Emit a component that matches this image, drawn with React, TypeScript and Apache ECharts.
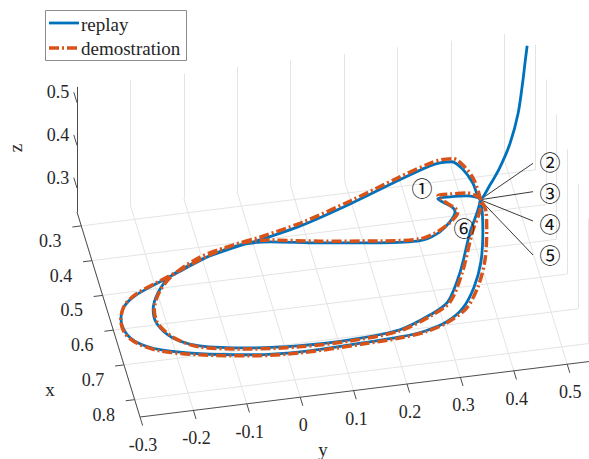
import React, { useEffect, useRef } from "react";
import * as echarts from "echarts";

// ---- axis limits and ticks (data units) ----
const xLim = [0.26, 0.85];
const yLim = [-0.3, 0.55];
const zLim = [0.244, 0.537];
const xTicks = [0.3, 0.4, 0.5, 0.6, 0.7, 0.8];
const yTicks = [-0.3, -0.2, -0.1, 0, 0.1, 0.2, 0.3, 0.4, 0.5];
const zTicks = [0.3, 0.4, 0.5];
const xTickLabels = ["0.3", "0.4", "0.5", "0.6", "0.7", "0.8"];
const yTickLabels = ["-0.3", "-0.2", "-0.1", "0", "0.1", "0.2", "0.3", "0.4", "0.5"];
const zTickLabels = ["0.3", "0.4", "0.5"];

// ---- trajectories [x, y, z] ----
const replayPath: number[][] = [
  [0.28, 0.539, 0.52], [0.3, 0.531, 0.498], [0.32, 0.523, 0.473], [0.35, 0.508, 0.423],
  [0.38, 0.487, 0.381], [0.41, 0.462, 0.353], [0.44, 0.437, 0.339], [0.46, 0.415, 0.325],
  [0.411, 0.411, 0.325], [0.371, 0.401, 0.325], [0.345, 0.385, 0.325], [0.344, 0.363, 0.325],
  [0.349, 0.343, 0.325], [0.377, 0.281, 0.325], [0.427, 0.178, 0.325], [0.471, 0.076, 0.325],
  [0.496, -0.005, 0.325], [0.509, -0.058, 0.325], [0.531, -0.124, 0.325], [0.567, -0.187, 0.325],
  [0.608, -0.218, 0.325], [0.653, -0.236, 0.325], [0.693, -0.237, 0.325], [0.738, -0.216, 0.325],
  [0.769, -0.172, 0.325], [0.792, -0.082, 0.325], [0.803, 0.009, 0.325], [0.804, 0.102, 0.325],
  [0.793, 0.198, 0.325], [0.762, 0.261, 0.325], [0.732, 0.3, 0.325], [0.653, 0.339, 0.325],
  [0.546, 0.379, 0.325], [0.493, 0.403, 0.325], [0.46, 0.415, 0.325],
  [0.445, 0.393, 0.325], [0.442, 0.362, 0.325], [0.443, 0.339, 0.325], [0.47, 0.36, 0.325],
  [0.485, 0.363, 0.325], [0.511, 0.348, 0.325], [0.54, 0.318, 0.325], [0.553, 0.284, 0.325],
  [0.545, 0.21, 0.325], [0.525, 0.102, 0.325], [0.505, 0.013, 0.325], [0.503, -0.043, 0.325],
  [0.523, -0.104, 0.325], [0.552, -0.16, 0.325], [0.58, -0.212, 0.325], [0.608, -0.261, 0.325],
  [0.635, -0.287, 0.325], [0.667, -0.299, 0.325], [0.708, -0.298, 0.325], [0.739, -0.282, 0.325],
  [0.766, -0.246, 0.325], [0.791, -0.176, 0.325], [0.811, -0.086, 0.325], [0.82, 0.006, 0.325],
  [0.817, 0.124, 0.325], [0.813, 0.194, 0.325], [0.805, 0.243, 0.325], [0.787, 0.287, 0.325],
  [0.754, 0.324, 0.325], [0.699, 0.356, 0.325], [0.632, 0.382, 0.325], [0.55, 0.402, 0.325],
  [0.494, 0.412, 0.325], [0.46, 0.415, 0.325],
];

const demoPath: number[][] = [
  [0.462, 0.416, 0.325], [0.403, 0.415, 0.325], [0.363, 0.405, 0.325], [0.337, 0.389, 0.325],
  [0.336, 0.367, 0.325], [0.341, 0.347, 0.325], [0.369, 0.283, 0.325], [0.419, 0.18, 0.325],
  [0.463, 0.078, 0.325], [0.488, -0.003, 0.325], [0.501, -0.056, 0.325], [0.523, -0.122, 0.325],
  [0.567, -0.185, 0.325], [0.608, -0.216, 0.325], [0.653, -0.234, 0.325], [0.693, -0.235, 0.325],
  [0.738, -0.214, 0.325], [0.772, -0.173, 0.325], [0.795, -0.083, 0.325], [0.806, 0.008, 0.325],
  [0.807, 0.101, 0.325], [0.796, 0.197, 0.325], [0.763, 0.265, 0.325], [0.733, 0.304, 0.325],
  [0.654, 0.343, 0.325], [0.547, 0.383, 0.325], [0.494, 0.407, 0.325], [0.462, 0.416, 0.325],
  [0.437, 0.395, 0.325], [0.434, 0.364, 0.325], [0.435, 0.341, 0.325], [0.477, 0.366, 0.325],
  [0.486, 0.368, 0.325], [0.509, 0.352, 0.325], [0.535, 0.319, 0.325], [0.548, 0.285, 0.325],
  [0.54, 0.211, 0.325], [0.52, 0.103, 0.325], [0.5, 0.014, 0.325], [0.498, -0.042, 0.325],
  [0.52, -0.103, 0.325], [0.549, -0.159, 0.325], [0.577, -0.211, 0.325], [0.605, -0.26, 0.325],
  [0.632, -0.286, 0.325], [0.67, -0.3, 0.325], [0.71, -0.3, 0.325], [0.741, -0.283, 0.325],
  [0.769, -0.247, 0.325], [0.794, -0.177, 0.325], [0.814, -0.087, 0.325], [0.823, 0.005, 0.325],
  [0.82, 0.123, 0.325], [0.816, 0.193, 0.325], [0.808, 0.242, 0.325], [0.79, 0.286, 0.325],
  [0.755, 0.331, 0.325], [0.7, 0.363, 0.325], [0.633, 0.389, 0.325], [0.551, 0.409, 0.325],
  [0.495, 0.419, 0.325], [0.462, 0.416, 0.325],
];

// convergence point marked by labels 2..5
const junction = [0.46, 0.415, 0.325];

// ---- view (oblique projection of the 3-D box onto the page) ----
const W = 589;
const H = 459;
const O = [77, 212];
const EX = [106.8, 347.5];
const EY = [534, -66];
const EZ = 427;

const P = (x: number, y: number, z: number): number[] => [
  O[0] + EX[0] * (x - xLim[0]) + EY[0] * (y - yLim[0]),
  O[1] + EX[1] * (x - xLim[0]) + EY[1] * (y - yLim[0]) - EZ * (z - zLim[0]),
];

const SERIF = "'Liberation Serif', 'Times New Roman', serif";
const TXT = "#262626";
const BLUE = "#0072BD";
const ORANGE = "#D95319";

function buildOption() {
  const grid: any[] = [];
  xTicks.forEach((x) => {
    grid.push({ coords: [P(x, yLim[0], zLim[0]), P(x, yLim[1], zLim[0])] });
    grid.push({ coords: [P(x, yLim[1], zLim[0]), P(x, yLim[1], zLim[1])] });
  });
  yTicks.forEach((y) => {
    grid.push({ coords: [P(xLim[0], y, zLim[0]), P(xLim[1], y, zLim[0])] });
    grid.push({ coords: [P(xLim[0], y, zLim[0]), P(xLim[0], y, zLim[1])] });
  });

  const axes: any[] = [
    { coords: [P(xLim[0], yLim[0], zLim[0]), P(xLim[1], yLim[0], zLim[0])] },
    { coords: [P(xLim[1], yLim[0], zLim[0]), P(xLim[1], yLim[1], zLim[0])] },
    { coords: [P(xLim[0], yLim[0], zLim[0]), P(xLim[0], yLim[0], zLim[1])] },
  ];
  const eyLen = Math.hypot(EY[0], EY[1]);
  const exLen = Math.hypot(EX[0], EX[1]);
  const graphics: any[] = [];
  const tickFont = `18px ${SERIF}`;
  xTicks.forEach((x, i) => {
    const p = P(x, yLim[0], zLim[0]);
    axes.push({ coords: [p, [p[0] - (EY[0] / eyLen) * 9, p[1] - (EY[1] / eyLen) * 9]] });
    graphics.push({
      type: "text", x: p[0] - 31, y: p[1] + 15,
      style: { text: xTickLabels[i], font: tickFont, fill: TXT, align: "center", verticalAlign: "middle" },
    });
  });
  yTicks.forEach((y, i) => {
    const p = P(xLim[1], y, zLim[0]);
    axes.push({ coords: [p, [p[0] + (EX[0] / exLen) * 9, p[1] + (EX[1] / exLen) * 9]] });
    graphics.push({
      type: "text", x: p[0] + 3, y: p[1] + 28,
      style: { text: yTickLabels[i], font: tickFont, fill: TXT, align: "center", verticalAlign: "middle" },
    });
  });
  zTicks.forEach((z, i) => {
    const p = P(xLim[0], yLim[0], z);
    axes.push({ coords: [p, [p[0] - (EX[0] / exLen) * 11, p[1] - (EX[1] / exLen) * 11]] });
    graphics.push({
      type: "text", x: p[0] - 19, y: p[1] - 10.5,
      style: { text: zTickLabels[i], font: tickFont, fill: TXT, align: "center", verticalAlign: "middle" },
    });
  });

  // axis titles
  graphics.push(
    { type: "text", x: 50, y: 389, style: { text: "x", font: `19px ${SERIF}`, fill: TXT, align: "center", verticalAlign: "middle" } },
    { type: "text", x: 323, y: 449, style: { text: "y", font: `19px ${SERIF}`, fill: TXT, align: "center", verticalAlign: "middle" } },
    { type: "text", x: 15, y: 148, rotation: Math.PI / 2, style: { text: "z", font: `19px ${SERIF}`, fill: TXT, align: "center", verticalAlign: "middle" } },
  );

  // legend
  graphics.push(
    { type: "rect", shape: { x: 45.5, y: 10.5, width: 141, height: 50 }, style: { fill: "#fff", stroke: "#8c8c8c", lineWidth: 1 } },
    { type: "line", shape: { x1: 49, y1: 23, x2: 79, y2: 23 }, style: { stroke: BLUE, lineWidth: 2.8 } },
    { type: "line", shape: { x1: 49, y1: 48, x2: 79, y2: 48 }, style: { stroke: ORANGE, lineWidth: 3.5, lineDash: [10, 3, 2, 3] } },
    { type: "text", x: 81, y: 24, style: { text: "replay", font: `19px ${SERIF}`, fill: TXT, verticalAlign: "middle" } },
    { type: "text", x: 81, y: 48, style: { text: "demostration", font: `19px ${SERIF}`, fill: TXT, verticalAlign: "middle" } },
  );

  // annotations
  const CIRC = "'Noto Sans CJK SC', 'DejaVu Sans', sans-serif";
  const marks: [string, number, number][] = [
    ["①", 422, 187], ["②", 550, 161], ["③", 550, 192], ["④", 550, 223], ["⑤", 550, 254], ["⑥", 464, 227],
  ];
  marks.forEach(([t, x, y]) =>
    graphics.push({
      type: "text", x, y, z: 10,
      style: { text: t, font: `21px ${CIRC}`, lineHeight: 21, fill: "#111", align: "center", verticalAlign: "middle" },
    }),
  );
  const J = P(junction[0], junction[1], junction[2]);
  const leaders = [[533, 163.3], [533, 191.7], [533, 221], [533, 255]].map((e) => ({ coords: [J, e] }));

  return {
    animation: false,
    backgroundColor: "#ffffff",
    grid: { left: 0, right: 0, top: 0, bottom: 0 },
    xAxis: { type: "value", min: 0, max: W, show: false },
    yAxis: { type: "value", min: 0, max: H, inverse: true, show: false },
    series: [
      { type: "lines", coordinateSystem: "cartesian2d", silent: true, data: grid, lineStyle: { color: "#e4e4e4", width: 1, opacity: 1 } },
      { type: "lines", coordinateSystem: "cartesian2d", silent: true, data: axes, lineStyle: { color: "#4d4d4d", width: 1, opacity: 1 } },
      {
        name: "replay", type: "line", silent: true, showSymbol: false, symbol: "none", smooth: 0.3,
        data: replayPath.map((p) => P(p[0], p[1], p[2])),
        lineStyle: { color: BLUE, width: 2.8 },
      },
      {
        name: "demostration", type: "line", silent: true, showSymbol: false, symbol: "none", smooth: 0.3,
        data: demoPath.map((p) => P(p[0], p[1], p[2])),
        lineStyle: { color: ORANGE, width: 3.5, type: [10, 3, 2, 3] },
      },
      { type: "lines", coordinateSystem: "cartesian2d", silent: true, data: leaders, lineStyle: { color: "#222", width: 0.9, opacity: 1 } },
    ],
    graphic: { elements: graphics },
  };
}

export default function App() {
  const ref = useRef<HTMLDivElement>(null);
  useEffect(() => {
    if (!ref.current) return;
    const chart = echarts.init(ref.current, null, { renderer: "svg" });
    chart.setOption(buildOption() as any);
    return () => chart.dispose();
  }, []);
  return (
    <div
      ref={ref}
      style={{ position: "absolute", left: 0, top: 0, width: W, height: H, background: "#fff" }}
    />
  );
}
